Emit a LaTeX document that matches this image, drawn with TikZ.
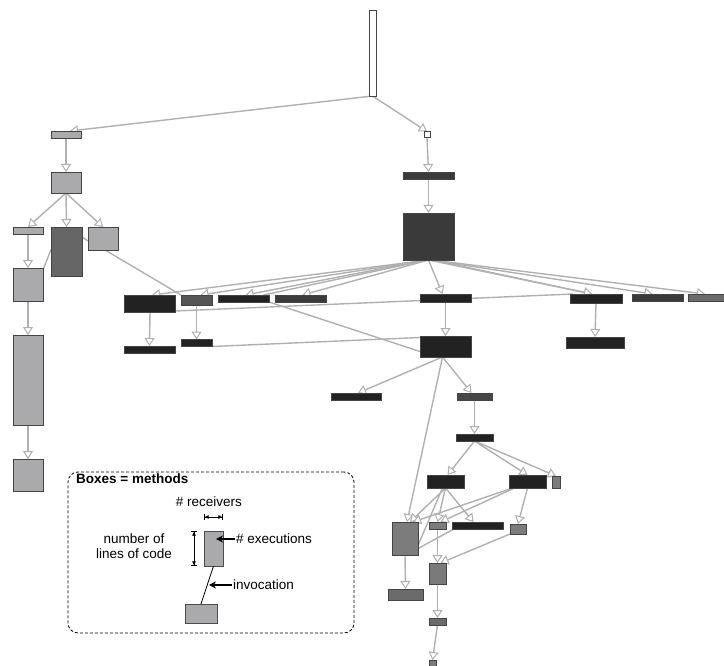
\documentclass[tikz,border=0pt]{standalone}
\usepackage{fontspec}
\newfontfamily\lsans{Liberation Sans}
\usetikzlibrary{arrows.meta}
\pgfdeclarelayer{bg}
\pgfsetlayers{bg,main}
\definecolor{edgec}{HTML}{B0B0B0}
\definecolor{lg}{HTML}{AAAAAC}
\definecolor{bk}{HTML}{222222}
\definecolor{dk}{HTML}{3A3A3A}
\definecolor{mg}{HTML}{555555}
\definecolor{gg}{HTML}{7C7C7C}
\definecolor{bordc}{HTML}{444444}
\tikzset{
  mbox/.style={draw=bordc, line width=0.8pt, inner sep=0pt, outer sep=0pt, rectangle},
  e/.style={draw=edgec, line width=1.4pt, -{Triangle[length=8pt,width=10pt,fill=white,line width=1pt]}},
  ep/.style={draw=edgec, line width=1.4pt},
  legtxt/.style={font=\lsans\fontsize{13.5}{15}\selectfont, inner sep=0pt},
  legarrow/.style={line width=1.6pt, -{Stealth[length=7pt,width=7pt]}},
  dim/.style={line width=0.6pt, {Bar[width=6pt]Latex[length=4pt,width=4pt]}-{Latex[length=4pt,width=4pt]Bar[width=6pt]}}
}
\newcommand\mb[6]{\node[mbox,fill=#6,minimum width=#4pt,minimum height=#5pt] (#1) at (#2,#3) {};}
\begin{document}
\begin{tikzpicture}[x=1pt,y=-1pt]
\useasboundingbox (0,0) rectangle (724,666);
% nodes
\mb{root}{372.5}{53}{7}{86}{white}
\mb{A1}{66}{134.5}{30}{7}{lg}
\mb{A2}{66}{182.5}{30}{21}{lg}
\mb{A3}{28}{230.5}{30}{7}{lg}
\mb{A4}{66.5}{251.5}{31}{49}{black!60}
\mb{A5}{103}{238.5}{30}{23}{lg}
\mb{A6}{28}{284.5}{30}{33}{lg}
\mb{A7}{28}{380}{30}{90}{lg}
\mb{A8}{28}{475}{30}{32}{lg}
\mb{S}{427}{134.5}{6}{6}{white}
\mb{C1}{428.5}{175.5}{51}{7}{dk}
\mb{C2}{428.5}{236.5}{51}{47}{dk}
\mb{B1}{150}{303.5}{51}{17}{bk}
\mb{B2}{196.5}{300}{31}{10}{mg}
\mb{B3}{243.5}{298.5}{51}{7}{bk}
\mb{B4}{300.5}{298.5}{51}{7}{dk}
\mb{B5}{445.5}{298}{51}{8}{bk}
\mb{B6}{596}{298.5}{52}{9}{bk}
\mb{B7}{657.5}{297.5}{51}{7}{dk}
\mb{B8}{707}{297.5}{38}{7}{black!58}
\mb{D1}{149.5}{349.5}{51}{7}{bk}
\mb{D2}{196.5}{343}{31}{7}{bk}
\mb{D3}{445.5}{346.5}{51}{21}{bk}
\mb{D4}{595}{342.5}{58}{11}{bk}
\mb{E1}{356}{396.5}{50}{7}{bk}
\mb{E2}{474.5}{396.5}{35}{7}{black!72}
\mb{E3}{474.5}{437.5}{37}{7}{bk}
\mb{F1}{445.5}{481.5}{37}{13}{bk}
\mb{F2}{527.5}{481.5}{37}{13}{bk}
\mb{F3}{556}{482}{8}{12}{gg}
\mb{G1}{405}{538.5}{26}{33}{gg}
\mb{G2}{437.5}{525.5}{17}{7}{gg}
\mb{G3}{477.5}{525.5}{51}{7}{bk}
\mb{G4}{518}{529}{16}{10}{gg}
\mb{H1}{437.5}{573.5}{17}{21}{black!52}
\mb{H2}{405.5}{594.5}{35}{11}{black!58}
\mb{H3}{437.5}{621.5}{17}{7}{black!58}
\mb{H4}{432.5}{664}{7}{8}{gg}
% edges
\begin{pgfonlayer}{bg}
\draw[e] (root.south) -- ([xshift=4pt]A1.north);
\draw[e] (root.south) -- (S.north);
\draw[e] (S.south) -- (C1.north);
\draw[e] (C1.south) -- (C2.north);
\draw[e] (A1.south) -- (A2.north);
\draw[e] (A2.south) -- (A3.north);
\draw[e] (A2.south) -- (A4.north);
\draw[e] (A2.south) -- (A5.north);
\draw[e] (A3.south) -- (A6.north);
\draw[e] (A6.south) -- (A7.north);
\draw[e] (A7.south) -- (A8.north);
\draw[ep] ([yshift=2pt]A4.west) -- ([yshift=-2pt]A6.north east);
\draw[ep] ([yshift=-10pt]A4.north east) -- ([yshift=-14pt]A5.north west);
\draw[ep] ([xshift=2pt]A5.south) -- (B2.north west);
\draw[e] (C2.south) -- ([xshift=2pt]B1.north);
\draw[e] (C2.south) -- ([xshift=4pt]B2.north);
\draw[e] ([xshift=-2pt]C2.south) -- ([xshift=2pt]B3.north);
\draw[ep] ([xshift=-1pt]C2.south) -- ([xshift=20pt]B3.north);
\draw[e] (C2.south) -- ([xshift=2pt]B4.north);
\draw[e] (C2.south) -- ([xshift=-3pt]B5.north);
\draw[e] (C2.south) -- ([xshift=-4pt]B6.north);
\draw[e] ([xshift=4pt]C2.south) -- ([xshift=-4pt]B6.north);
\draw[e] ([xshift=2pt]C2.south) -- ([xshift=-5pt]B7.north);
\draw[e] ([xshift=3pt]C2.south) -- ([xshift=-2pt]B8.north);
\draw[e] (B1.south) -- (D1.north);
\draw[e] (B2.south) -- (D2.north);
\draw[e] (B5.south) -- (D3.north);
\draw[e] (B6.south) -- (D4.north);
\draw[ep] ([yshift=1pt]B1.south east) -- ([xshift=3pt]B6.north west);
\draw[ep] (B3.south east) -- ([yshift=-5pt]D3.west);
\draw[ep] (D2.south east) -- ([yshift=-1.5pt]D3.north west);
\draw[e] ([xshift=-3pt]D3.south) -- ([xshift=2pt]E1.north);
\draw[e] ([xshift=-3pt]D3.south) -- ([xshift=-3pt]E2.north);
\draw[e] ([xshift=-3pt]D3.south) -- ([xshift=2pt]G1.north);
\draw[e] (E2.south) -- (E3.north);
\draw[e] (E3.south) -- ([xshift=2pt]F1.north);
\draw[e] (E3.south) -- (F2.north);
\draw[e] (E3.south) -- (F3.north);
\draw[e] (F1.south) -- ([xshift=5pt]G1.north);
\draw[e] (F1.south) -- (G2.north);
\draw[e] (F1.south) -- ([xshift=-4pt]G3.north);
\draw[e] ([xshift=-15pt]F2.south) -- ([xshift=8pt]G1.north);
\draw[e] ([xshift=-13pt]F2.south) -- ([xshift=3pt]G2.north);
\draw[e] (F2.south) -- (G4.north);
\draw[ep] ([yshift=-7pt]G1.east) -- ([xshift=-3pt]F1.south);
\draw[ep] ([yshift=-10pt]G1.east) -- ([xshift=2pt]G3.south west);
\draw[e] (G1.south) -- (H2.north);
\draw[e] (G2.south) -- (H1.north);
\draw[e] (G4.south west) -- ([xshift=3pt]H1.north);
\draw[e] (H1.south) -- (H3.north);
\draw[e] (H3.south) -- (H4.north);
\end{pgfonlayer}
% legend
\node[draw=black, line width=0.8pt, dash pattern=on 3pt off 2pt, rounded corners=10pt,
      minimum width=286pt, minimum height=161pt, inner sep=0pt] (legend) at (211,552.5) {};
\node[legtxt, font=\lsans\bfseries\fontsize{13.5}{15}\selectfont, anchor=base west] (ltitle) at (76,483) {Boxes = methods};
\node[mbox, draw=black!70, fill=lg, minimum width=19pt, minimum height=35pt] (LB1) at (213.5,548.5) {};
\node[mbox, draw=black!70, fill=lg, minimum width=32pt, minimum height=19pt] (LB2) at (201,613.5) {};
\draw[line width=0.8pt] (LB1.south) -- (LB2.north);
\node[legtxt, anchor=base] (lrec) at (209,506) {\# receivers};
\draw[dim] ([yshift=14pt]LB1.north west) -- ([yshift=14pt]LB1.north east);
\draw[dim] ([xshift=-10pt]LB1.north west) -- ([xshift=-10pt]LB1.south west);
\node[legtxt, anchor=base] (lnum) at (134,543) {number of};
\node[legtxt, anchor=base] (lloc) at (134,558) {lines of code};
\node[legtxt, anchor=base west] (lexe) at (236,543) {\# executions};
\coordinate (exetip) at (216,539);
\draw[legarrow] ([xshift=-1pt,yshift=4pt]lexe.base west) -- (exetip);
\node[legtxt, anchor=base west] (linv) at (233,589) {invocation};
\coordinate (invtip) at (209,585);
\draw[legarrow] ([xshift=-1pt,yshift=4pt]linv.base west) -- (invtip);
\end{tikzpicture}
\end{document}
